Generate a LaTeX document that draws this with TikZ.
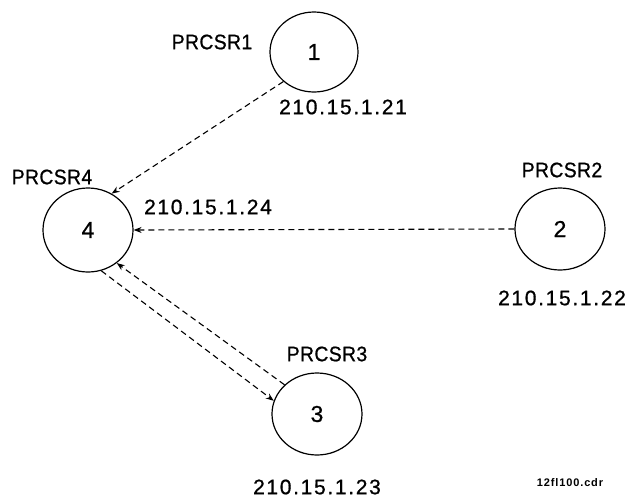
\documentclass[tikz,border=0pt]{standalone}
\usepackage{fontspec}
\setmainfont{Liberation Sans}
\newfontfamily\lblfont{Liberation Sans}[LetterSpace=2,FakeStretch=0.92,FakeBold=0.8]
\newfontfamily\addrfont{Liberation Sans}[LetterSpace=8,FakeBold=0.8]
\newfontfamily\numfont{Liberation Sans}[FakeBold=0.8]
\newfontfamily\notefont{Liberation Sans Bold}[LetterSpace=8]
\usetikzlibrary{shapes.geometric,arrows.meta}
\begin{document}
\begin{tikzpicture}[x=1pt,y=-1pt,
  proc/.style={draw,ellipse,line width=1.2pt,minimum width=90pt,minimum height=82pt,inner sep=0pt,font=\numfont\fontsize{23}{25}\selectfont},
  lbl/.style={inner sep=0pt,font=\lblfont\fontsize{21}{23}\selectfont},
  addr/.style={inner sep=0pt,font=\addrfont\fontsize{21}{23}\selectfont},
  link/.style={draw,line width=1.1pt,dash pattern=on 6pt off 4pt,-{Stealth[length=8pt,width=6pt]}}]
\useasboundingbox (0,0) rectangle (630,499);
\node[proc,minimum width=88pt,minimum height=80pt] (n1) at (314,52) {1};
\node[proc,minimum height=84pt] (n4) at (88,230) {4};
\node[proc] (n2) at (560,229) {2};
\node[proc] (n3) at (317,414) {3};
\node[lbl] (l1) at (212,42) {PRCSR1};
\node[addr] (a1) at (343,107) {210.15.1.21};
\node[lbl] (l4) at (52,177) {PRCSR4};
\node[addr] (a4) at (208,207) {210.15.1.24};
\node[lbl] (l2) at (562,170) {PRCSR2};
\node[addr] (a2) at (562,298) {210.15.1.22};
\node[lbl] (l3) at (327,354) {PRCSR3};
\node[addr] (a3) at (317,487) {210.15.1.23};
\node[inner sep=0pt,font=\notefont\fontsize{11}{12}\selectfont] (fn) at (570,483) {12fl100.cdr};
\draw[link] (n1.224) -- (n4.57);
\draw[link] (n2.180) -- (n4.0);
\draw[link] (n4.-72) -- (n3.163);
\draw[link] (n3.138) -- (n4.-49);
\end{tikzpicture}
\end{document}
